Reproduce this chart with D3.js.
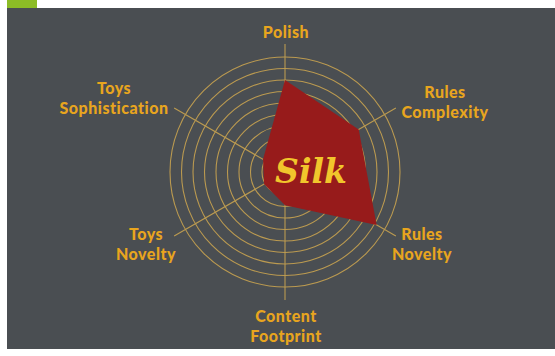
<!DOCTYPE html>
<html>
<head>
<meta charset="utf-8">
<script src="https://cdn.jsdelivr.net/npm/d3@7/dist/d3.min.js"></script>
<style>
  body { margin: 0; background: #ffffff; }
  svg { display: block; }
</style>
</head>
<body>
<div id="radar"></div>
<script>
(function(d3) {
  'use strict';

  // data
  var categories = [
    ['Polish'],
    ['Rules', 'Complexity'],
    ['Rules', 'Novelty'],
    ['Content', 'Footprint'],
    ['Toys', 'Novelty'],
    ['Toys', 'Sophistication']
  ];
  var values = [8.0, 7.4, 9.2, 2.9, 2.1, 2.2];
  var ringLevels = [1, 2, 3, 4, 5, 6, 7, 8, 9, 10];
  var seriesName = 'Silk';

  // sizes
  var width = 555, height = 356;
  var cx = 285, cy = 172;
  var ringRadius = 115;
  var spokeRadius = 128;
  // label block centres, relative to the chart centre
  var labelOffsets = [[1, -140], [160, -70], [137, 72], [1, 154], [-139, 72], [-171, -74]];

  // colors
  var panelColor = '#4a4e52';
  var tabColor = '#8cbc26';
  var gridColor = '#bb9a50';
  var areaColor = '#971b1b';
  var labelColor = '#e8a51e';
  var titleColor = '#f1c62c';

  var svg = d3.select('#radar').append('svg')
    .attr('width', width)
    .attr('height', height);

  svg.append('rect')
    .attr('x', 7).attr('y', 8)
    .attr('width', width - 7).attr('height', 341)
    .attr('fill', panelColor);

  svg.append('rect')
    .attr('x', 7).attr('y', 0)
    .attr('width', 30).attr('height', 8)
    .attr('fill', tabColor);

  var r = d3.scaleLinear()
    .domain([0, d3.max(ringLevels)])
    .range([0, ringRadius]);

  var angle = d3.scaleLinear()
    .domain([0, categories.length])
    .range([0, 2 * Math.PI]);

  var g = svg.append('g')
    .attr('transform', 'translate(' + cx + ',' + cy + ')');

  // rings
  g.selectAll('circle.ring')
    .data(ringLevels)
    .enter().append('circle')
    .attr('class', 'ring')
    .attr('r', function(d) { return r(d); })
    .attr('fill', 'none')
    .attr('stroke', gridColor)
    .attr('stroke-width', 1.1);

  // spokes
  g.selectAll('line.spoke')
    .data(categories)
    .enter().append('line')
    .attr('class', 'spoke')
    .attr('x1', 0).attr('y1', 0)
    .attr('x2', function(d, i) { return Math.sin(angle(i)) * spokeRadius; })
    .attr('y2', function(d, i) { return -Math.cos(angle(i)) * spokeRadius; })
    .attr('stroke', gridColor)
    .attr('stroke-width', 1.1);

  // area
  var radial = d3.lineRadial()
    .angle(function(d, i) { return angle(i); })
    .radius(function(d) { return r(d); })
    .curve(d3.curveLinearClosed);

  g.append('path')
    .datum(values)
    .attr('d', radial)
    .attr('fill', areaColor)
    .attr('stroke', 'none');

  // series name
  g.append('text')
    .attr('x', 26)
    .attr('y', 2)
    .attr('text-anchor', 'middle')
    .attr('dominant-baseline', 'middle')
    .attr('fill', titleColor)
    .style('font-family', '"DejaVu Serif", serif')
    .style('font-style', 'italic')
    .style('font-weight', 'bold')
    .style('font-size', '33px')
    .text(seriesName);

  // axis labels
  var labels = g.selectAll('text.axis-label')
    .data(categories)
    .enter().append('text')
    .attr('class', 'axis-label')
    .attr('text-anchor', 'middle')
    .attr('fill', labelColor)
    .style('font-family', 'Lato, sans-serif')
    .style('font-weight', '900')
    .style('font-size', '16px')
    .style('letter-spacing', '0.5px');

  labels.each(function(lines, i) {
    var off = labelOffsets[i];
    var top = off[1] - (lines.length - 1) * 10 + 6;
    d3.select(this).selectAll('tspan')
      .data(lines)
      .enter().append('tspan')
      .attr('x', off[0])
      .attr('y', function(d, j) { return top + j * 20; })
      .text(function(d) { return d; });
  });
})(window.d3);
</script>
</body>
</html>
